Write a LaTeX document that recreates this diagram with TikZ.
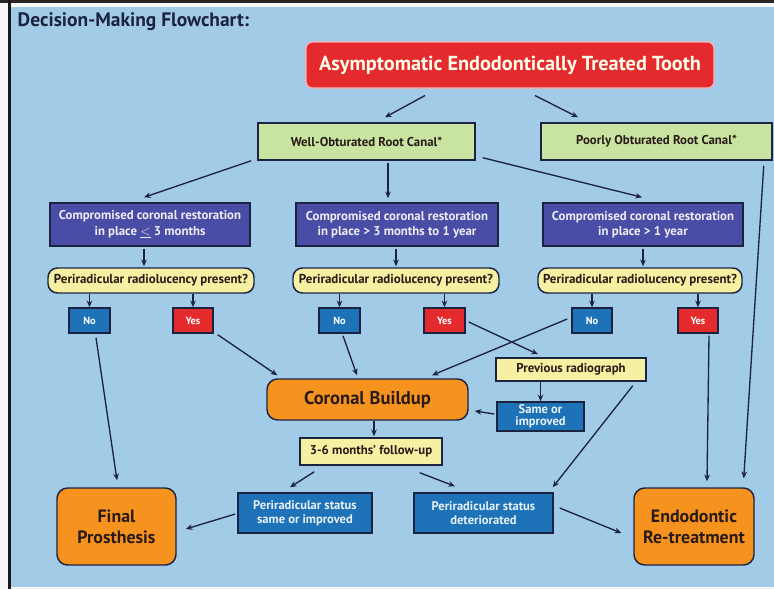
\documentclass[tikz,border=0pt]{standalone}
\usepackage{fontspec}
\setmainfont{PT Sans}
\usetikzlibrary{calc,arrows.meta}
\definecolor{bg}{HTML}{A2CBE8}
\definecolor{navy}{HTML}{1C2340}
\definecolor{redbox}{HTML}{E52A2E}
\definecolor{greenbox}{HTML}{C8E4A0}
\definecolor{purplebox}{HTML}{4A4DA6}
\definecolor{yellowbox}{HTML}{F6F0A2}
\definecolor{bluebox}{HTML}{1D72B8}
\definecolor{orangebox}{HTML}{F6931F}
\definecolor{darktext}{HTML}{2A1A18}
\tikzset{
  box/.style={draw=navy, line width=1.1pt, inner sep=1pt, align=center, font=\bfseries},
  redstyle/.style={box, draw=red!30!white, line width=0.8pt, fill=redbox, rounded corners=5pt, text=white!92!yellow, font=\bfseries\fontsize{15.2}{17}\selectfont},
  greenstyle/.style={box, fill=greenbox, text=darktext, font=\bfseries\fontsize{9.6}{11}\selectfont},
  purplestyle/.style={box, fill=purplebox, text=white!90!purplebox, font=\bfseries\fontsize{9.6}{11.5}\selectfont},
  yellowround/.style={box, fill=yellowbox, rounded corners=7pt, text=darktext, font=\bfseries\fontsize{9.7}{11}\selectfont},
  yellowrect/.style={box, fill=yellowbox, text=darktext, font=\bfseries\fontsize{9.6}{11}\selectfont},
  nostyle/.style={box, fill=bluebox, text=white, font=\bfseries\fontsize{7.8}{9}\selectfont},
  yesstyle/.style={box, fill=redbox, text=white, font=\bfseries\fontsize{7.8}{9}\selectfont},
  bluestyle/.style={box, fill=bluebox, text=white!90!bluebox, font=\bfseries\fontsize{9.4}{10.5}\selectfont},
  orangestyle/.style={box, fill=orangebox, rounded corners=8pt, text=darktext, font=\bfseries\fontsize{13.4}{16}\selectfont},
  arr/.style={draw=navy, line width=1pt, -{Stealth[length=5pt,width=4.2pt]}},
}
\begin{document}
\begin{tikzpicture}[x=0.75pt,y=-0.75pt]
\useasboundingbox (0,0) rectangle (774,589);
% background
\fill[white!94!gray] (0,0) rectangle (774,589);
\fill[bg] (11,7) rectangle (774,587);
\fill[black!85] (0,0) rectangle (774,3);
\fill[black!90] (8,0) rectangle (11,589);

\node[anchor=west, text=navy, font=\bfseries\fontsize{14.6}{16}\selectfont] (title) at (13,22) {Decision-Making Flowchart:};

\node[redstyle, minimum width=306pt, minimum height=34.5pt] (red) at (510,65) {Asymptomatic Endodontically Treated Tooth};

\node[greenstyle, minimum width=162.75pt, minimum height=27.75pt] (well) at (366.5,141.5) {Well-Obturated Root Canal*};
\node[greenstyle, minimum width=173.25pt, minimum height=27.75pt] (poorly) at (656.5,141.5) {Poorly Obturated Root Canal*};

\node[purplestyle, minimum width=150pt, minimum height=32.25pt] (p1) at (150,224.5) {Compromised coronal restoration\\in place $\underline{<}$ 3 months};
\node[purplestyle, minimum width=151.5pt, minimum height=32.25pt] (p2) at (397,224.5) {Compromised coronal restoration\\in place > 3 months to 1 year};
\node[purplestyle, minimum width=150pt, minimum height=32.25pt] (p3) at (643,224.5) {Compromised coronal restoration\\in place > 1 year};

\node[yellowround, minimum width=154.5pt, minimum height=18.75pt] (y1) at (151,280.5) {Periradicular radiolucency present?};
\node[yellowround, minimum width=154.5pt, minimum height=18.75pt] (y2) at (396,280.5) {Periradicular radiolucency present?};
\node[yellowround, minimum width=153pt, minimum height=18.75pt] (y3) at (640,280.5) {Periradicular radiolucency present?};

\node[nostyle, minimum width=30.75pt, minimum height=18.75pt] (no1) at (89.5,320.5) {No};
\node[yesstyle, minimum width=30pt, minimum height=18.75pt] (yes1) at (193,320.5) {Yes};
\node[nostyle, minimum width=30.75pt, minimum height=18.75pt] (no2) at (339.5,320.5) {No};
\node[yesstyle, minimum width=30.75pt, minimum height=18.75pt] (yes2) at (444.5,320.5) {Yes};
\node[nostyle, minimum width=30pt, minimum height=18.75pt] (no3) at (592,320.5) {No};
\node[yesstyle, minimum width=30pt, minimum height=18.75pt] (yes3) at (698,320.5) {Yes};

\node[orangestyle, font=\bfseries\fontsize{13.9}{16}\selectfont, minimum width=150.75pt, minimum height=30.75pt] (coronal) at (367.5,399.5) {Coronal Buildup};
\node[yellowrect, minimum width=106.5pt, minimum height=20.25pt] (follow) at (371,451.5) {3-6 months' follow-up};
\node[yellowrect, minimum width=112.5pt, minimum height=17.25pt] (prev) at (571,369.5) {Previous radiograph};
\node[bluestyle, minimum width=65.25pt, minimum height=21.75pt] (same) at (540.5,416.5) {Same or\\[-1.5pt]improved};

\node[orangestyle, minimum width=89.25pt, minimum height=57.75pt] (final) at (116.5,526.5) {Final\\Prosthesis};
\node[bluestyle, minimum width=100.5pt, minimum height=30pt] (statsame) at (305,513) {Periradicular status\\same or improved};
\node[bluestyle, minimum width=104.25pt, minimum height=30pt] (statdet) at (483.5,513) {Periradicular status\\deteriorated};
\node[orangestyle, minimum width=90pt, minimum height=57.75pt] (endo) at (694,526.5) {Endodontic\\Re-treatment};

% connectors
\draw[arr] ($(red.south)+(-85,7)$) -- ($(well.north)+(18.5,-5)$);
\draw[arr] ($(red.south)+(25,7)$) -- ($(poorly.north)+(-78.5,-5)$);
\draw[arr] ($(well.south west)+(-6,0)$) -- ($(p1.north)+(-6,-5)$);
\draw[arr] ($(well.south)+(21.5,2)$) -- ($(p2.north)+(-9,-4)$);
\draw[arr] ($(well.south east)+(7,-3)$) -- ($(p3.north)+(-1,-5)$);

\draw[arr] ($(p1.south)+(-6,2)$) -- ($(y1.north)+(-7,-1)$);
\draw[arr] ($(p2.south)+(-1,2)$) -- ($(y2.north)+(0,-1)$);
\draw[arr] ($(p3.south)+(0,2)$) -- ($(y3.north)+(3,-1)$);

\draw[arr] (no1.north |- y1.south) -- (no1.north);
\draw[arr] (yes1.north |- y1.south) -- (yes1.north);
\draw[arr] (no2.north |- y2.south) -- (no2.north);
\draw[arr] (yes2.north |- y2.south) -- (yes2.north);
\draw[arr] (no3.north |- y3.south) -- (no3.north);
\draw[arr] (yes3.north |- y3.south) -- (yes3.north);

\draw[arr] ($(no1.south)+(6.5,4)$) -- ($(final.north)+(0.5,-7)$);
\draw[arr] ($(yes1.south east)+(4,1)$) -- ($(coronal.north west)+(11,-3)$);
\draw[arr] ($(no2.south)+(3.5,2)$) -- ($(coronal.north)+(-10.5,-3)$);
\draw[arr] ($(yes2.east)+(3,1.5)$) -- ($(prev.north)+(-33,-3)$);
\draw[arr] ($(no3.west)+(-4,-1.5)$) -- ($(coronal.north)+(64.5,-3)$);
\draw[arr] ($(yes3.south)+(11,2)$) -- ($(endo.north)+(13,-6)$);
\draw[arr] ($(poorly.south east)+(-9,5)$) -- ($(endo.north east)+(-11,-9)$);

\draw[arr] ($(coronal.south)+(6.5,0)$) -- ($(follow.north)+(3,-1)$);
\draw[arr] (same.north |- prev.south) -- (same.north);
\draw[arr] ($(same.west)+(-2,-2.5)$) -- ($(coronal.east)+(6,11.5)$);
\draw[arr] ($(prev.south east)+(-14,4)$) -- ($(statdet.north east)+(-1,-5)$);
\draw[arr] ($(follow.south east)+(-23,7)$) -- ($(statdet.north)+(-28.5,-6)$);
\draw[arr] ($(follow.south west)+(15,6)$) -- ($(statsame.north)+(-15,-5)$);
\draw[arr] ($(statsame.west)+(-2,1)$) -- ($(final.east)+(9,2.5)$);
\draw[arr] ($(statdet.east)+(6,-5)$) -- ($(endo.west)+(-12,6.5)$);
\end{tikzpicture}
\end{document}
